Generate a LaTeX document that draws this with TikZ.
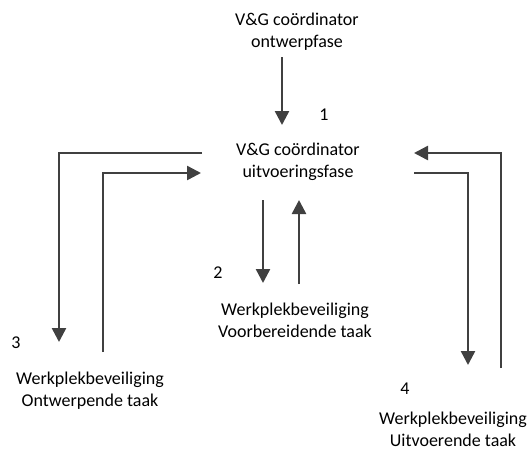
\documentclass[tikz,border=0pt]{standalone}
\usepackage{fontspec}
\setmainfont{Carlito}
\usetikzlibrary{arrows.meta}
\definecolor{ink}{HTML}{404040}
\begin{document}
\begin{tikzpicture}[x=1pt,y=-1pt,
  lbl/.style={align=center,font=\fontsize{18}{22}\selectfont,text=black,inner sep=0pt},
  num/.style={font=\fontsize{18}{22}\selectfont,text=black,inner sep=0pt},
  arr/.style={draw=ink,line width=2.5pt,-{Triangle[width=14pt,length=14pt]}}]
\useasboundingbox (0,0) rectangle (529,450);
\node[lbl] (ontw) at (297,32) {V\&G coördinator\\ontwerpfase};
\node[lbl] (uitv) at (298,162) {V\&G coördinator\\uitvoeringsfase};
\node[lbl] (voorb) at (295,320) {Werkplekbeveiliging\\Voorbereidende taak};
\node[lbl] (ontwt) at (90,391) {Werkplekbeveiliging\\Ontwerpende taak};
\node[lbl] (uitvt) at (453,429) {Werkplekbeveiliging\\Uitvoerende taak};
\node[num] (n1) at (324,115) {1};
\node[num] (n2) at (218,273) {2};
\node[num] (n3) at (16,343) {3};
\node[num] (n4) at (405,389) {4};
% connector end points
\coordinate (a1s) at (282,57);
\coordinate (a1e) at (282,125);
\coordinate (l1s) at (202,153);
\coordinate (l1c) at (59,153);
\coordinate (l1e) at (59,342);
\coordinate (l2s) at (103,352);
\coordinate (l2c) at (103,173);
\coordinate (l2e) at (201,173);
\coordinate (m1s) at (263,200);
\coordinate (m1e) at (263,283);
\coordinate (m2s) at (299,284);
\coordinate (m2e) at (299,200);
\coordinate (r1s) at (501,368);
\coordinate (r1c) at (501,153);
\coordinate (r1e) at (414,153);
\coordinate (r2s) at (414,173);
\coordinate (r2c) at (468,173);
\coordinate (r2e) at (468,365);
\draw[arr] (a1s) -- (a1e);
\draw[arr] (l1s) -- (l1c) -- (l1e);
\draw[arr] (l2s) -- (l2c) -- (l2e);
\draw[arr] (m1s) -- (m1e);
\draw[arr] (m2s) -- (m2e);
\draw[arr] (r1s) -- (r1c) -- (r1e);
\draw[arr] (r2s) -- (r2c) -- (r2e);
\end{tikzpicture}
\end{document}
